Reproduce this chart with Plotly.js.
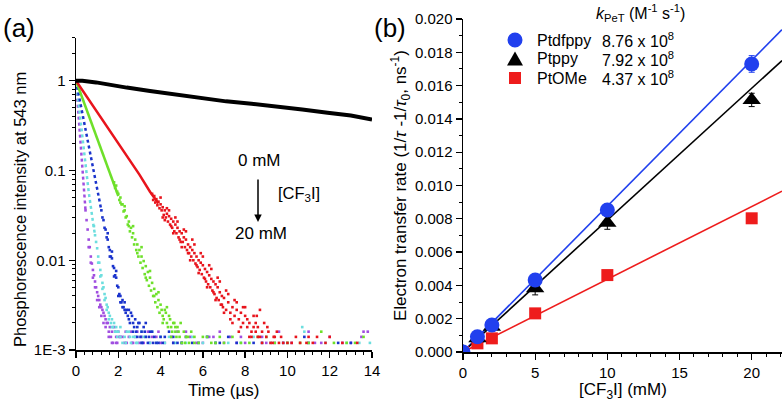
<!DOCTYPE html>
<html>
<head>
<meta charset="utf-8">
<script src="https://cdn.plot.ly/plotly-3.0.1.min.js"></script>
<style>html,body{margin:0;padding:0;background:#fff;}#chart{width:784px;height:411px;}</style>
</head>
<body>
<div id="chart"></div>
<script>
// ---------- Panel (a): phosphorescence decays ----------
var blackT = [0,0.3,0.95,1.6,2.4,3.5,4.75,6.0,7.1,8.3,9.5,10.7,11.9,13.0,14.0];
var blackI = [1.0,1.0,0.96,0.90,0.84,0.77,0.70,0.64,0.59,0.555,0.52,0.48,0.44,0.41,0.37];

var redHeadT = [0,0.5,1,1.5,2,2.5,3,3.5,3.9];
var redHeadI = [1,0.67,0.45,0.30,0.20,0.135,0.090,0.058,0.043];
var redTailT = [3.6,3.65,3.7,3.75,3.8,3.85,3.9,3.95,4.0,4.05,4.1,4.15,4.2,4.25,4.3,4.35,4.4,4.45,4.5,4.55,4.6,4.65,4.7,4.75,4.8,4.85,4.9,4.95,5.0,5.05,5.1,5.15,5.2,5.25,5.3,5.35,5.4,5.45,5.5,5.55,5.6,5.65,5.7,5.75,5.8,5.85,5.9,5.95,6.0,6.05,6.1,6.15,6.2,6.25,6.3,6.35,6.4,6.45,6.5,6.55,6.6,6.65,6.7,6.75,6.8,6.85,6.9,6.95,7.0,7.1,7.2,7.3,7.4,7.5,7.6,7.7,7.8,7.9,8.0,8.1,8.2,8.3,8.4,8.5,8.55,8.6,8.7,8.8,9.0,9.2,9.4,9.6,10.4,10.6,11.2,11.4,12.6,
  4.0,4.2,4.4,4.6,4.8,5.0,5.2,5.4,5.6,5.8,6.0,6.2,6.4,6.6,6.8,7.0,7.2,7.4,7.6,7.8,8.0,8.2,8.4,8.6,8.8,8.9,9.1,9.3,9.5,9.8,10.2,11.0,11.8,13.3,
  4.1,4.3,4.5,4.7,4.9,5.1,5.3,5.5,5.7,5.9,6.1,6.3,6.5,6.7,6.9,7.1,7.3,7.5,7.7,7.9,8.1,8.3,8.5,8.7,9.05,9.35,9.7,10.0,10.9,12.0];
var redTailI = [0.055,0.047,0.052,0.044,0.048,0.041,0.045,0.038,0.042,0.036,0.039,0.032,0.036,0.030,0.033,0.027,0.031,0.025,0.029,0.023,0.027,0.021,0.025,0.020,0.023,0.018,0.021,0.016,0.020,0.016,0.018,0.014,0.017,0.013,0.015,0.012,0.014,0.011,0.013,0.0100,0.012,0.0092,0.0110,0.0084,0.0100,0.0078,0.0094,0.0070,0.0088,0.0064,0.0080,0.0058,0.0074,0.0054,0.0068,0.0050,0.0062,0.0046,0.0058,0.0042,0.0054,0.0038,0.0050,0.0036,0.0044,0.0032,0.0040,0.0030,0.0038,0.0028,0.0034,0.0026,0.0030,0.0024,0.0028,0.0022,0.0026,0.0020,0.0024,0.0018,0.0020,0.0016,0.0018,0.0016,0.0024,0.0014,0.0028,0.0016,0.0014,0.0012,0.0014,0.0012,0.0014,0.0012,0.0012,0.0014,0.0012,
  0.050,0.028,0.036,0.020,0.027,0.014,0.021,0.010,0.015,0.0072,0.011,0.0050,0.0080,0.0036,0.0058,0.0026,0.0042,0.0020,0.0034,0.0018,0.0030,0.0014,0.0024,0.0018,0.0012,0.0020,0.0016,0.0012,0.0016,0.0012,0.0012,0.0014,0.0012,0.0012,
  0.030,0.038,0.024,0.030,0.017,0.022,0.012,0.017,0.0088,0.012,0.0062,0.0088,0.0044,0.0064,0.0032,0.0046,0.0022,0.0036,0.0016,0.0030,0.0022,0.0014,0.0020,0.0014,0.0018,0.0014,0.0014,0.0012,0.0012,0.0014];

var greenHeadT = [0,0.4,0.8,1.2,1.6,2.0];
var greenHeadI = [1,0.55,0.31,0.17,0.094,0.052];
var greenTailT = [1.8,1.85,1.9,1.95,2.0,2.05,2.1,2.15,2.2,2.25,2.3,2.35,2.4,2.45,2.5,2.55,2.6,2.65,2.7,2.75,2.8,2.85,2.9,2.95,3.0,3.05,3.1,3.15,3.2,3.25,3.3,3.35,3.4,3.45,3.5,3.55,3.6,3.65,3.7,3.75,3.8,3.85,3.9,3.95,4.0,4.1,4.2,4.3,4.4,4.5,4.6,4.7,4.8,4.9,5.1,5.3,5.6,6.0,6.4,7.0,7.4,8.2,9.0,10.0,11.6,12.2,13.2,13.6,
  4.05,4.15,4.25,4.35,4.45,4.55,4.65,4.75,4.85,5.0,5.2,5.45,5.8,6.2,6.6,7.8,8.6,9.4,10.6,12.8,
  2.1,2.3,2.5,2.7,2.9,3.1,3.3,3.5,3.7,3.9,4.1,4.3,4.5,4.7,4.95,5.15,5.35,5.6,6.8,11.0];
var greenTailI = [0.074,0.064,0.068,0.058,0.055,0.047,0.050,0.042,0.042,0.035,0.036,0.030,0.031,0.025,0.027,0.021,0.023,0.018,0.020,0.015,0.017,0.013,0.015,0.011,0.013,0.0094,0.011,0.0082,0.0098,0.0070,0.0086,0.0060,0.0074,0.0052,0.0064,0.0046,0.0056,0.0040,0.0048,0.0034,0.0042,0.0030,0.0036,0.0026,0.0032,0.0024,0.0028,0.0020,0.0024,0.0018,0.0020,0.0016,0.0018,0.0014,0.0016,0.0014,0.0012,0.0014,0.0012,0.0012,0.0014,0.0012,0.0014,0.0012,0.0016,0.0012,0.0012,0.0014,
  0.0028,0.0022,0.0026,0.0018,0.0022,0.0016,0.0020,0.0014,0.0016,0.0012,0.0014,0.0016,0.0012,0.0014,0.0012,0.0012,0.0014,0.0012,0.0012,0.0012,
  0.044,0.040,0.024,0.024,0.012,0.014,0.0064,0.0076,0.0040,0.0044,0.0020,0.0030,0.0014,0.0018,0.0020,0.0012,0.0012,0.0014,0.0014,0.0012];

var blueHeadT = [0,0.2,0.4,0.6,0.8,1.0,1.2];
var blueHeadI = [1,0.57,0.33,0.19,0.11,0.063,0.036];
var blueTailT = [1.2,1.25,1.3,1.35,1.4,1.45,1.5,1.55,1.6,1.65,1.7,1.75,1.8,1.85,1.9,1.95,2.0,2.05,2.1,2.15,2.2,2.25,2.3,2.35,2.4,2.5,2.6,2.7,2.8,2.9,3.0,3.1,3.2,3.3,3.5,3.7,3.9,4.2,4.6,5.2,5.8,6.6,7.2,8.4,9.8,10.8,12.4,
  2.45,2.55,2.65,2.75,2.85,2.95,3.05,3.15,3.25,3.4,3.6,3.8,4.0,4.4,4.8,5.5,6.2,7.6,8.8,11.0,13.0,
  1.5,1.6,1.7,1.8,1.9,2.0,2.1,2.2,2.3,2.5,2.7,2.9,3.1,3.3,3.45,3.65,4.1,4.6,5.0,6.8];
var blueTailI = [0.036,0.030,0.028,0.023,0.022,0.018,0.017,0.014,0.013,0.011,0.0105,0.0086,0.0082,0.0068,0.0064,0.0052,0.0050,0.0042,0.0040,0.0034,0.0036,0.0030,0.0034,0.0026,0.0028,0.0022,0.0026,0.0020,0.0022,0.0018,0.0020,0.0016,0.0018,0.0014,0.0016,0.0014,0.0012,0.0014,0.0012,0.0014,0.0012,0.0012,0.0014,0.0012,0.0012,0.0014,0.0012,
  0.0024,0.0020,0.0024,0.0018,0.0016,0.0020,0.0014,0.0012,0.0016,0.0012,0.0016,0.0012,0.0014,0.0016,0.0012,0.0012,0.0014,0.0012,0.0012,0.0012,0.0012,
  0.020,0.011,0.0125,0.0066,0.0076,0.0040,0.0034,0.0030,0.0028,0.0028,0.0016,0.0014,0.0012,0.0020,0.0014,0.0012,0.0012,0.0014,0.0012,0.0012];

var cyanHeadT = [0,0.2,0.4,0.6,0.8,0.9];
var cyanHeadI = [1,0.38,0.145,0.058,0.027,0.019];
var cyanTailT = [0.85,0.9,0.95,1.0,1.05,1.1,1.15,1.2,1.25,1.3,1.35,1.4,1.45,1.5,1.55,1.6,1.7,1.8,1.9,2.0,2.1,2.3,2.5,2.7,2.9,3.3,3.8,4.4,5.0,6.2,7.8,9.2,10.8,11.8,12.8,13.4,
  1.65,1.75,1.85,1.95,2.2,2.4,2.6,2.8,3.1,3.5,4.0,4.7,5.5,6.6,7.2,8.4,10.0,13.9,
  1.05,1.15,1.25,1.35,1.45,1.55,1.7,1.9,2.1,2.35,2.55,2.85,3.2,3.6,4.2,5.2,6.0,10.7];
var cyanTailI = [0.024,0.019,0.016,0.0136,0.011,0.0094,0.0078,0.0068,0.0056,0.0050,0.0042,0.0038,0.0032,0.0030,0.0026,0.0024,0.0022,0.0020,0.0018,0.0016,0.0018,0.0014,0.0016,0.0014,0.0012,0.0014,0.0012,0.0014,0.0012,0.0014,0.0012,0.0012,0.0016,0.0012,0.0012,0.0012,
  0.0020,0.0018,0.0016,0.0014,0.0012,0.0016,0.0012,0.0014,0.0016,0.0012,0.0014,0.0012,0.0014,0.0012,0.0012,0.0014,0.0012,0.0012,
  0.0094,0.0066,0.0048,0.0036,0.0028,0.0022,0.0018,0.0016,0.0014,0.0012,0.0014,0.0012,0.0014,0.0016,0.0012,0.0012,0.0012,0.0018];

var purpleHeadT = [0,0.1,0.2,0.3,0.4,0.45];
var purpleHeadI = [1,0.5,0.22,0.10,0.05,0.036];
var purpleTailT = [0.45,0.5,0.55,0.6,0.65,0.7,0.75,0.8,0.85,0.9,0.95,1.0,1.05,1.1,1.15,1.2,1.25,1.3,1.35,1.4,1.5,1.6,1.7,1.8,1.9,2.0,2.2,2.4,2.6,2.8,3.0,3.4,3.6,4.0,4.8,5.4,6.0,6.8,7.6,8.8,10.2,11.0,12.0,13.0,13.8,
  1.45,1.55,1.65,1.75,1.85,1.95,2.1,2.3,2.5,2.7,2.9,3.2,3.5,3.8,4.2,4.5,5.0,5.7,6.3,7.0,7.3,8.0,9.4,11.6,12.6,13.5,
  0.6,0.7,0.8,0.9,1.0,1.1,1.2,1.3,1.4,1.55,1.7,1.9,2.05,2.35,2.65,3.1,3.9,4.6,5.2,6.5,7.8,9.0,9.6,11.3,13.6];
var purpleTailI = [0.036,0.028,0.022,0.017,0.014,0.011,0.0092,0.0078,0.0068,0.0058,0.0050,0.0044,0.0040,0.0036,0.0032,0.0030,0.0028,0.0026,0.0024,0.0022,0.0020,0.0018,0.0016,0.0018,0.0014,0.0016,0.0014,0.0012,0.0016,0.0014,0.0012,0.0016,0.0014,0.0012,0.0016,0.0014,0.0012,0.0016,0.0012,0.0014,0.0012,0.0016,0.0014,0.0012,0.0016,
  0.0020,0.0016,0.0014,0.0012,0.0016,0.0012,0.0014,0.0012,0.0014,0.0012,0.0016,0.0012,0.0012,0.0014,0.0012,0.0014,0.0012,0.0012,0.0014,0.0012,0.0014,0.0012,0.0012,0.0012,0.0012,0.0014,
  0.014,0.0094,0.0064,0.0050,0.0036,0.0030,0.0024,0.0020,0.0018,0.0014,0.0012,0.0012,0.0014,0.0016,0.0012,0.0014,0.0016,0.0012,0.0016,0.0014,0.0014,0.0012,0.0016,0.0012,0.0016];

var logTickVals = [0.001,0.01,0.1,1];
var logTickText = ['1E-3','0.01','0.1','1'];

// ---------- Panel (b): electron transfer rate ----------
var conc = [0,1,2,5,10,20];
var ptdfppy = [0,0.00092,0.00162,0.00432,0.00853,0.0173];
var ptdfppyErr = [0,0.0001,0.0001,0.0002,0.0003,0.0005];
var ptppy = [0,0.00082,0.00152,0.00383,0.00777,0.01514];
var ptppyErr = [0,0.0001,0.0001,0.0004,0.0004,0.0004];
var ptome = [0,0.00052,0.00082,0.00232,0.00462,0.00803];
var names = ['Ptdfppy','Ptppy','PtOMe'];
var kValues = [8.76e8, 7.92e8, 4.37e8];      // M^-1 s^-1
var kLabels = ['8.76 x 10<sup>8</sup>','7.92 x 10<sup>8</sup>','4.37 x 10<sup>8</sup>'];
var fitX = [0, 22.1];

var cBlue = '#2140ee', cBlack = '#000000', cRed = '#ee1c1c';
var cRedA = '#e8141c', cGreen = '#6ee02a', cBlueA = '#1a33cc', cCyan = '#6cdede', cPurple = '#a04ee0';

function headTrace(t, I, color, dash, w) {
  return {x: t, y: I, xaxis: 'x', yaxis: 'y', mode: 'lines', type: 'scatter', showlegend: false,
          line: {color: color, width: w, dash: dash}, hoverinfo: 'skip'};
}
function tailTrace(t, I, color) {
  return {x: t, y: I, xaxis: 'x', yaxis: 'y', mode: 'markers', type: 'scatter', showlegend: false,
          marker: {color: color, size: 2.6, symbol: 'square'}, hoverinfo: 'skip'};
}

var traces = [
  headTrace(purpleHeadT, purpleHeadI, cPurple, 'dot', 2.5), tailTrace(purpleTailT, purpleTailI, cPurple),
  headTrace(cyanHeadT, cyanHeadI, cCyan, 'dot', 2.5), tailTrace(cyanTailT, cyanTailI, cCyan),
  headTrace(blueHeadT, blueHeadI, cBlueA, 'dot', 2.5), tailTrace(blueTailT, blueTailI, cBlueA),
  headTrace(greenHeadT, greenHeadI, cGreen, 'solid', 2.5), tailTrace(greenTailT, greenTailI, cGreen),
  headTrace(redHeadT, redHeadI, cRedA, 'solid', 2.5), tailTrace(redTailT, redTailI, cRedA),
  headTrace(blackT, blackI, cBlack, 'solid', 4)
];

var fitColors = [cBlue, cBlack, cRed];
for (var i = 0; i < 3; i++) {
  var slope = kValues[i] * 1e-3 * 1e-9; // ns^-1 per mM
  traces.push({x: fitX, y: [fitX[0]*slope, fitX[1]*slope], xaxis: 'x2', yaxis: 'y2', mode: 'lines',
    type: 'scatter', showlegend: false, line: {color: fitColors[i], width: 1.6}, hoverinfo: 'skip'});
}
traces.push({x: conc, y: ptome, xaxis: 'x2', yaxis: 'y2', mode: 'markers', type: 'scatter', showlegend: false,
  marker: {symbol: 'square', size: 12, color: cRed}});
traces.push({x: conc, y: ptppy, xaxis: 'x2', yaxis: 'y2', mode: 'markers', type: 'scatter', showlegend: false,
  marker: {symbol: 'triangle-up', size: 16, color: cBlack},
  error_y: {type: 'data', array: ptppyErr, color: cBlack, thickness: 1, width: 3}});
traces.push({x: conc, y: ptdfppy, xaxis: 'x2', yaxis: 'y2', mode: 'markers', type: 'scatter', showlegend: false,
  marker: {symbol: 'circle', size: 15, color: cBlue},
  error_y: {type: 'data', array: ptdfppyErr, color: cBlue, thickness: 1, width: 3}});

var FONT = 'Liberation Sans, Arial, Helvetica, sans-serif';
var W = 784, H = 411;
function px(x) { return x / W; }
function py(y) { return 1 - y / H; }

var axisCommon = {showline: true, linecolor: '#000', linewidth: 1.5, ticks: 'outside', ticklen: 6, tickwidth: 1.3,
  tickcolor: '#000', showgrid: false, zeroline: false, tickfont: {family: FONT, size: 15, color: '#000'}};

function merge(a, b) { var o = {}; for (var k in a) o[k] = a[k]; for (var k2 in b) o[k2] = b[k2]; return o; }

function note(text, x, y, size, extra) {
  var a = {text: text, x: px(x), y: py(y), xref: 'paper', yref: 'paper', xanchor: 'center', yanchor: 'middle',
    showarrow: false, font: {family: FONT, size: size, color: '#000'}};
  if (extra) for (var k in extra) a[k] = extra[k];
  return a;
}

var annotations = [
  note('(a)', 19, 28, 26),
  note('(b)', 390, 28, 26),
  note('Phosphorescence intensity at 543 nm', 20, 210, 16.5, {textangle: -90}),
  note('Time (\u00b5s)', 224, 390, 17),
  note('0 mM', 259, 160, 17),
  note('[CF<sub>3</sub>I]', 276, 194, 16.5, {xanchor: 'left'}),
  note('20 mM', 261, 233, 17),
  {text: '', x: px(258), y: py(222), xref: 'paper', yref: 'paper', showarrow: true, ax: 0, ay: -44,
   arrowhead: 2, arrowsize: 1, arrowwidth: 1.5, arrowcolor: '#000'},
  note('Electron transfer rate (1/<i>\u03c4</i> -1/<i>\u03c4</i><sub>0</sub>, ns<sup>-1</sup>)', 400, 186, 17, {textangle: -90}),
  note('[CF<sub>3</sub>I] (mM)', 623, 391, 17),
  note('<i>k</i><sub>PeT</sub> (M<sup>-1</sup> s<sup>-1</sup>)', 640, 13, 16)
];
var rowsY = [40, 59, 78];
var shapes = [];
for (var r = 0; r < 3; r++) {
  annotations.push(note(names[r], 535, rowsY[r], 16, {xanchor: 'left'}));
  annotations.push(note(kLabels[r], 600, rowsY[r], 16, {xanchor: 'left'}));
}
// legend symbols (pixel-sized, anchored in paper coords)
var symX = px(515);
shapes.push({type: 'circle', xref: 'paper', yref: 'paper', xsizemode: 'pixel', ysizemode: 'pixel',
  xanchor: symX, yanchor: py(rowsY[0]), x0: -7.5, x1: 7.5, y0: -7.5, y1: 7.5, fillcolor: cBlue, line: {width: 0}});
shapes.push({type: 'path', xref: 'paper', yref: 'paper', xsizemode: 'pixel', ysizemode: 'pixel',
  xanchor: symX, yanchor: py(rowsY[1]), path: 'M-8,-6.5L8,-6.5L0,7.5Z', fillcolor: cBlack, line: {width: 0}});
shapes.push({type: 'rect', xref: 'paper', yref: 'paper', xsizemode: 'pixel', ysizemode: 'pixel',
  xanchor: symX, yanchor: py(rowsY[2]), x0: -6, x1: 6, y0: -6, y1: 6, fillcolor: cRed, line: {width: 0}});

var layout = {
  width: W, height: H, margin: {l: 0, r: 0, t: 0, b: 0}, paper_bgcolor: '#fff', plot_bgcolor: '#fff',
  font: {family: FONT, color: '#000'},
  showlegend: false,
  xaxis: merge(axisCommon, {domain: [px(76), px(372)], range: [0, 14], anchor: 'y', tickvals: [0,2,4,6,8,10,12,14],
    minor: {dtick: 0.4, tick0: 0, ticks: 'outside', ticklen: 3, tickwidth: 1, tickcolor: '#000', showgrid: false}}),
  yaxis: merge(axisCommon, {domain: [py(350), py(38)], type: 'log', range: [-3, 0.477], anchor: 'x',
    tickvals: logTickVals, ticktext: logTickText,
    minor: {dtick: 'D1', ticks: 'outside', ticklen: 3, tickwidth: 1, tickcolor: '#000', showgrid: false}}),
  xaxis2: merge(axisCommon, {domain: [px(463), px(782)], range: [0, 22.1], anchor: 'y2', tickvals: [0,5,10,15,20],
    minor: {dtick: 1, tick0: 0, ticks: 'outside', ticklen: 3, tickwidth: 1, tickcolor: '#000', showgrid: false}}),
  yaxis2: merge(axisCommon, {domain: [py(352), py(19)], range: [0, 0.020], anchor: 'x2', dtick: 0.002, tick0: 0, tickformat: '.3f',
    minor: {dtick: 0.001, tick0: 0, ticks: 'outside', ticklen: 3, tickwidth: 1, tickcolor: '#000', showgrid: false}}),
  annotations: annotations,
  shapes: shapes
};

Plotly.newPlot('chart', traces, layout, {staticPlot: true, displayModeBar: false});
</script>
</body>
</html>
